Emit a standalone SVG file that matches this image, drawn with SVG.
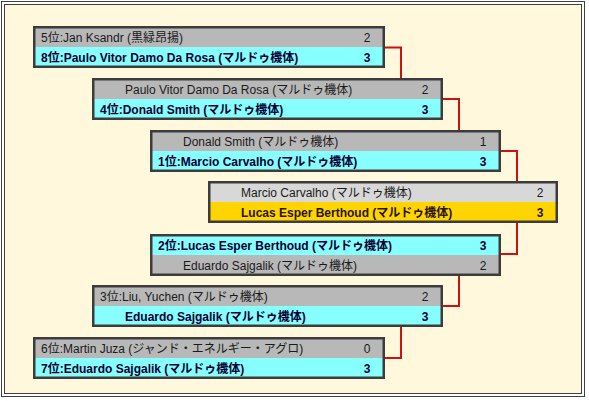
<svg xmlns="http://www.w3.org/2000/svg" width="589" height="401" viewBox="0 0 589 401">
<style>
text{font-family:"Liberation Sans","Noto Sans CJK JP",sans-serif;font-size:12px;}
.n{fill:#1a1a1a;}
.b{font-weight:bold;fill:#000033;}
.g{font-weight:bold;fill:#2a1400;}
.s{text-anchor:middle;}
.frame{fill:none;stroke:#404040;stroke-width:1;}
.box{fill:none;stroke:#3c3c3c;stroke-width:2.5;}
.gr{fill:#b8b8b8;}
.lg{fill:#d8d8d8;}
.cy{fill:#88ffff;}
.au{fill:#ffd400;}
.con path{fill:none;stroke:#cc1111;stroke-width:2;}
</style>
<rect x="0" y="0" width="589" height="401" fill="#ffffff"/>
<rect x="1.5" y="1.5" width="583" height="395" class="frame" fill="none"/>
<rect x="4.5" y="4.5" width="577" height="389" class="frame" style="fill:#fff8dc"/>

<g id="connectors" class="con">
<path d="M385 47.5 H401 V78"/>
<path d="M443 99 H459 V130"/>
<path d="M501 151 H517 V181.5"/>
<path d="M517 223 V254 H501"/>
<path d="M459 275 V306 H443"/>
<path d="M401 327 V358 H385"/>
</g>

<g id="m1">
<rect x="34" y="27" width="350" height="20" class="gr"/>
<rect x="34" y="47" width="350" height="20" class="cy"/>
<rect x="34.25" y="27.25" width="349.5" height="39.5" class="box"/>
<text x="41" y="42" class="n">5位:Jan Ksandr (黒緑昂揚)</text>
<text x="367" y="42" class="n s">2</text>
<text x="41" y="61.5" class="b">8位:Paulo Vitor Damo Da Rosa (マルドゥ機体)</text>
<text x="367" y="61.5" class="b s">3</text>
</g>

<g id="m2">
<rect x="93" y="79" width="349" height="20" class="gr"/>
<rect x="93" y="99" width="349" height="20" class="cy"/>
<rect x="93.25" y="79.25" width="348.5" height="39.5" class="box"/>
<text x="125" y="94" class="n">Paulo Vitor Damo Da Rosa (マルドゥ機体)</text>
<text x="425" y="94" class="n s">2</text>
<text x="100" y="113.5" class="b">4位:Donald Smith (マルドゥ機体)</text>
<text x="425" y="113.5" class="b s">3</text>
</g>

<g id="m3">
<rect x="151" y="131" width="349" height="20" class="gr"/>
<rect x="151" y="151" width="349" height="20" class="cy"/>
<rect x="151.25" y="131.25" width="348.5" height="39.5" class="box"/>
<text x="183" y="146" class="n">Donald Smith (マルドゥ機体)</text>
<text x="483" y="146" class="n s">1</text>
<text x="158" y="165.5" class="b">1位:Marcio Carvalho (マルドゥ機体)</text>
<text x="483" y="165.5" class="b s">3</text>
</g>

<g id="final">
<rect x="209" y="182" width="348" height="20" class="lg"/>
<rect x="209" y="202" width="348" height="20" class="au"/>
<rect x="209.25" y="182.25" width="347.5" height="39.5" class="box"/>
<text x="241" y="197" class="n">Marcio Carvalho (マルドゥ機体)</text>
<text x="540" y="197" class="n s">2</text>
<text x="241" y="216.5" class="g">Lucas Esper Berthoud (マルドゥ機体)</text>
<text x="540" y="216.5" class="g s">3</text>
</g>

<g id="m5">
<rect x="151" y="235" width="349" height="20" class="cy"/>
<rect x="151" y="255" width="349" height="20" class="gr"/>
<rect x="151.25" y="235.25" width="348.5" height="39.5" class="box"/>
<text x="158" y="250" class="b">2位:Lucas Esper Berthoud (マルドゥ機体)</text>
<text x="483" y="250" class="b s">3</text>
<text x="183" y="269.5" class="n">Eduardo Sajgalik (マルドゥ機体)</text>
<text x="483" y="269.5" class="n s">2</text>
</g>

<g id="m6">
<rect x="93" y="286" width="349" height="20" class="gr"/>
<rect x="93" y="306" width="349" height="20" class="cy"/>
<rect x="93.25" y="286.25" width="348.5" height="39.5" class="box"/>
<text x="100" y="301" class="n">3位:Liu, Yuchen (マルドゥ機体)</text>
<text x="425" y="301" class="n s">2</text>
<text x="125" y="320.5" class="b">Eduardo Sajgalik (マルドゥ機体)</text>
<text x="425" y="320.5" class="b s">3</text>
</g>

<g id="m7">
<rect x="34" y="338" width="350" height="20" class="gr"/>
<rect x="34" y="358" width="350" height="20" class="cy"/>
<rect x="34.25" y="338.25" width="349.5" height="39.5" class="box"/>
<text x="41" y="353" class="n">6位:Martin Juza (ジャンド・エネルギー・アグロ)</text>
<text x="367" y="353" class="n s">0</text>
<text x="41" y="372.5" class="b">7位:Eduardo Sajgalik (マルドゥ機体)</text>
<text x="367" y="372.5" class="b s">3</text>
</g>
</svg>
